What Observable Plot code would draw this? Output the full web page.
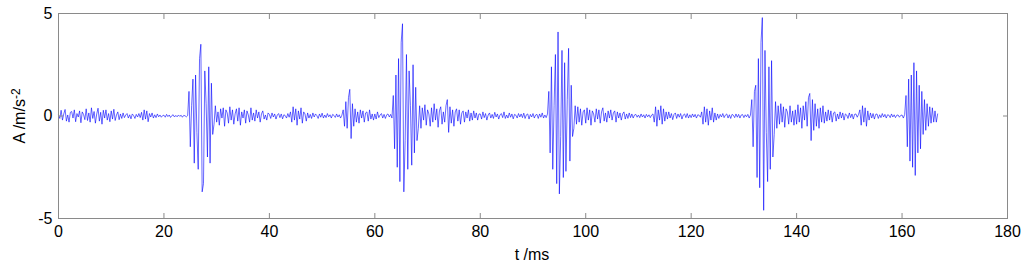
<!DOCTYPE html>
<html>
<head>
<meta charset="utf-8">
<script src="https://cdn.jsdelivr.net/npm/d3@7"></script>
<script src="https://cdn.jsdelivr.net/npm/@observablehq/plot@0.6"></script>
<style>
  html, body { margin: 0; padding: 0; background: #fff; }
  #chart svg { display: block; }
</style>
</head>
<body>
<div id="chart"></div>
<script>
// sampling step (ms) and segment start times (ms)
const dt = 0.25;
const segStarts = [0, 20, 40, 60, 80, 100, 120, 140, 160];

// acceleration samples, one array per 20 ms
const seg0 = [0.05,-0.12,0.28,-0.2,0.1,0.32,-0.25,0.05,-0.3,0.18,
0.22,-0.1,0.3,-0.28,0.12,-0.05,0.25,-0.33,0.2,0.08,
-0.18,0.35,-0.22,0.15,-0.3,0.4,-0.12,0.22,-0.35,0.1,
0.38,-0.25,0.18,-0.4,0.28,-0.1,0.3,-0.2,0.12,-0.28,
0.25,-0.15,0.33,-0.22,0.05,0.2,-0.18,0.1,
-0.12,0.15,-0.08,0.05,0.12,-0.1,0.06,-0.14,
0.1,0.02,-0.12,0.08,-0.05,0.12,-0.08,0.18,
-0.2,0.3,-0.15,0.25,-0.28,0.12,-0.05,0.15,
-0.1,0.06,-0.08,0.1,-0.04,0.05,-0.06,0.02];
const seg1 = [0.04,-0.06,0.08,-0.03,0.05,-0.07,0.02,0.06,-0.05,0.03,
-0.04,0.05,-0.02,0.04,-0.06,0.03,0.01,-0.04,0.02,
1.2,-1.5,0.5,1.8,-2.3,2.0,-0.8,-2.6,2.8,3.5,-3.7,-3.3,2.2,0.6,-2.0,2.4,-2.3,1.6,-0.9,
-0.4,0.5,-0.3,0.2,-0.45,0.35,-0.1,0.4,-0.5,0.3,
0.15,-0.35,0.45,-0.2,0.3,-0.4,0.1,0.35,-0.25,0.4,
-0.45,0.2,-0.1,0.3,-0.35,0.25,0.05,-0.3,0.4,-0.2,
0.15,-0.25,0.3,-0.1,0.2,-0.3,0.1,0.25,-0.15,0.05,
-0.2,0.15];
const seg2 = [0.08,-0.12,0.15,-0.05,0.1,-0.15,0.05,0.12,-0.08,0.1,-0.14,0.06,0.02,-0.1,0.12,-0.06,
0.2,-0.3,0.45,-0.2,0.35,-0.45,0.25,-0.15,0.4,-0.35,0.2,0.1,-0.25,0.15,
-0.1,0.08,-0.12,0.15,-0.05,0.1,0.02,-0.12,0.1,-0.06,0.14,-0.1,0.05,-0.08,0.12,-0.04,0.06,-0.1,0.08,0.03,-0.07,0.1,-0.05,0.06,-0.1,0.04,
0.3,-0.5,0.7,-0.6,0.9,1.3,-1.1,0.6,-0.5,
0.35,-0.3,0.2,-0.35,0.3,-0.1,0.25,-0.3,0.15,0.2,-0.25,0.3,-0.15,0.1,-0.2];
const seg3 = [0.1,-0.15,0.2,-0.08,0.05,0.12,-0.1,0.08,-0.12,0.06,0.1,-0.05,0.08,-0.1,
1.0,-1.6,2.0,-2.5,2.8,-3.2,3.6,4.5,-3.7,-1.2,3.0,-2.6,2.2,0.5,-2.4,2.5,-1.8,1.4,-1.2,-0.6,
0.5,-0.6,0.4,-0.2,0.55,-0.45,0.3,0.1,-0.5,0.4,
-0.3,0.6,-0.2,0.35,-0.55,0.25,0.45,-0.4,0.2,-0.3,
0.5,0.8,-0.8,0.45,-0.35,0.3,-0.5,0.2,0.35,-0.25,
0.3,-0.4,0.15,0.25,-0.3,0.2,-0.1,0.3,-0.25,0.15,
-0.2,0.25,-0.1,0.15,-0.2,0.1];
const seg4 = [0.1,-0.15,0.2,-0.08,0.12,-0.2,0.05,0.15,-0.1,0.08,
-0.12,0.18,-0.05,0.1,-0.15,0.06,0.12,-0.08,0.2,-0.12,
0.05,-0.1,0.15,-0.06,0.1,-0.14,0.08,0.04,-0.1,0.12,
-0.05,0.1,-0.08,0.14,-0.12,0.06,0.1,-0.15,0.08,-0.05,
0.12,-0.1,0.05,0.08,-0.12,0.1,-0.06,0.15,-0.1,0.05,
-0.08,0.1,
1.2,-1.8,2.4,-2.6,0.5,3.0,-3.3,4.1,-3.8,-1.0,3.2,-3.0,2.6,-2.7,0.8,3.3,-2.2,1.5,-1.0,
-0.6,0.5,-0.4,0.45,-0.3,0.35,-0.45,0.2,0.3];
const seg5 = [-0.35,0.4,-0.2,0.3,-0.45,0.25,0.1,-0.3,0.35,-0.15,
0.3,-0.35,0.2,0.4,-0.25,0.15,-0.3,0.25,-0.1,0.3,
-0.2,0.15,0.25,-0.3,0.2,-0.1,0.15,-0.2,0.1,0.2,
-0.15,0.1,-0.12,0.15,-0.08,0.1,-0.1,0.05,0.08,-0.06,
0.05,-0.08,0.1,-0.05,0.06,-0.1,0.08,-0.04,0.06,-0.08,0.05,0.1,
-0.3,0.45,-0.5,0.3,-0.2,0.5,-0.4,0.35,-0.25,0.2,
-0.15,0.2,-0.1,0.12,-0.18,0.08,0.15,-0.12,0.1,-0.06,0.12,-0.15,0.05,0.1,-0.08,0.12,-0.1,0.06];
const seg6 = [-0.08,0.1,-0.05,0.08,-0.1,0.06,0.04,-0.06,
0.2,-0.4,0.45,-0.3,0.35,-0.45,0.25,-0.2,0.4,-0.3,0.15,-0.2,
0.1,-0.12,0.08,-0.05,0.12,-0.08,0.05,0.1,-0.1,0.06,-0.12,0.08,0.04,-0.08,0.1,-0.06,0.08,-0.1,0.05,0.07,-0.08,0.06,-0.04,0.08,-0.1,0.05,
0.8,-1.5,1.2,1.5,-3.0,2.8,-3.5,3.6,4.8,-4.6,3.2,-0.8,-3.2,2.4,-2.6,2.7,-2.0,-0.9,
0.7,-0.6,0.5,-0.4,0.6,-0.3,0.45,-0.55,0.35,0.2,-0.4,0.5,-0.3,0.25,-0.45,0.3];
const seg7 = [-0.4,0.55,-0.3,0.4,-0.6,0.5,-0.2,0.7,-0.5,0.9,1.1,-1.2,0.8,-0.7,0.6,-0.5,0.35,-0.6,0.4,-0.3,0.5,-0.35,0.2,-0.25,
0.3,-0.2,0.25,-0.3,0.15,0.2,-0.25,0.1,-0.15,0.2,-0.1,0.15,-0.2,0.1,0.05,-0.12,0.15,-0.08,0.1,-0.15,0.08,0.1,-0.06,0.08,
0.3,-0.45,0.5,-0.3,0.4,-0.5,0.25,-0.2,
0.15,-0.1,0.12,-0.15,0.08,0.1,-0.12,0.06,-0.08,0.12,-0.05,0.08,-0.1,0.06,0.04,-0.08,0.1,-0.05,0.06,-0.08,0.04,0.05,-0.06,0.03];
const seg8 = [0.05,-0.1,0.08,1.0,-1.5,1.8,-2.2,2.0,-2.5,2.6,-2.9,2.2,-1.8,1.5,-1.6,1.2,-0.9,0.8,-0.7,0.6,-0.5,0.45,-0.35,0.4,-0.3,0.25,-0.3,0.1];

const xTicks = [0, 20, 40, 60, 80, 100, 120, 140, 160, 180];
const yTicks = [-5, 0, 5];
const xLabel = "t /ms";
const yLabelMain = "A /m/s";
const yLabelSup = "-2";

const segments = [seg0, seg1, seg2, seg3, seg4, seg5, seg6, seg7, seg8];
const data = segments.flatMap((vals, k) => vals.map((v, i) => ({t: segStarts[k] + i * dt, a: v})));

const font = "'Liberation Sans', Arial, Helvetica, sans-serif";
const axisColor = "#8a8a8a";

const chart = Plot.plot({
  width: 1024,
  height: 266,
  marginLeft: 58,
  marginRight: 17,
  marginTop: 13,
  marginBottom: 48,
  style: {fontFamily: font, fontSize: "16px", background: "#fff", color: "#000"},
  x: {domain: [0, 180], axis: null},
  y: {domain: [-5, 5], axis: null},
  marks: [
    Plot.line(data, {x: "t", y: "a", stroke: "#0000ff", strokeWidth: 0.6}),
    Plot.frame({stroke: axisColor}),
    Plot.axisX({anchor: "bottom", ticks: xTicks, tickSize: -5, tickPadding: 12, tickFormat: d => String(d), stroke: axisColor, fill: "#000", fontSize: 16, label: null}),
    Plot.axisX({anchor: "top", ticks: xTicks, tickSize: -5, tickFormat: () => "", stroke: axisColor, label: null}),
    Plot.axisY({anchor: "left", ticks: yTicks, tickSize: -5, tickPadding: 11, tickFormat: d => String(d), stroke: axisColor, fill: "#000", fontSize: 16, label: null}),
    Plot.axisY({anchor: "right", ticks: yTicks, tickSize: -5, tickFormat: () => "", stroke: axisColor, label: null})
  ]
});

document.getElementById("chart").appendChild(chart);

const svg = d3.select(chart);
svg.append("text")
  .attr("x", 532).attr("y", 260)
  .attr("text-anchor", "middle")
  .style("font-family", font).style("font-size", "16px").attr("fill", "#000")
  .text(xLabel);

const yl = svg.append("text")
  .attr("transform", "translate(25,116) rotate(-90)")
  .attr("text-anchor", "middle")
  .style("font-family", font).style("font-size", "16px").attr("fill", "#000");
yl.append("tspan").text(yLabelMain);
yl.append("tspan").attr("dy", "-0.45em").style("font-size", "12px").text(yLabelSup);
</script>
</body>
</html>
